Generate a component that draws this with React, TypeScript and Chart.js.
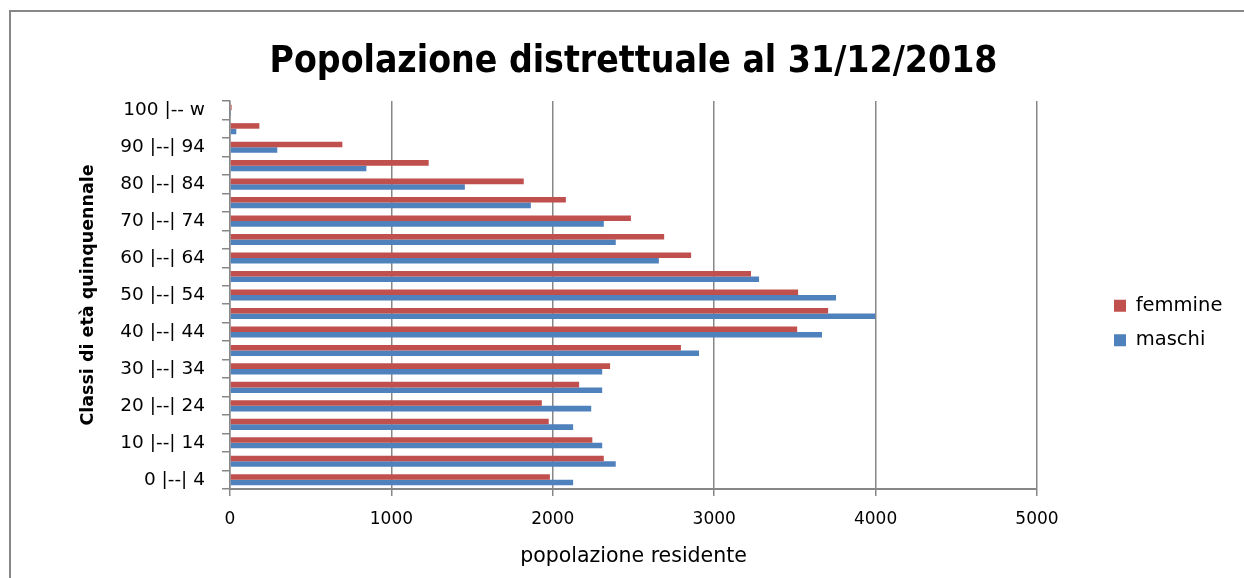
import React, { useEffect, useRef } from 'react';
import { Chart, registerables } from 'chart.js';

Chart.register(...registerables);

const ageClasses = [
  '0 |--| 4', '5 |--| 9', '10 |--| 14', '15 |--| 19', '20 |--| 24', '25 |--| 29',
  '30 |--| 34', '35 |--| 39', '40 |--| 44', '45 |--| 49', '50 |--| 54', '55 |--| 59',
  '60 |--| 64', '65 |--| 69', '70 |--| 74', '75 |--| 79', '80 |--| 84', '85 |--| 89',
  '90 |--| 94', '95 |--| 99', '100 |-- w',
];
const femmine = [1982, 2316, 2245, 1975, 1932, 2163, 2355, 2794, 3514, 3706, 3520, 3228, 2857, 2690, 2484, 2081, 1820, 1231, 696, 182, 10];
const maschi = [2126, 2390, 2306, 2126, 2238, 2306, 2306, 2906, 3668, 3997, 3755, 3278, 2657, 2390, 2316, 1864, 1455, 845, 293, 39, 2];
const xMin = 0;
const xMax = 5000;
const xStep = 1000;

const TITLE = 'Popolazione distrettuale al 31/12/2018';
const X_TITLE = 'popolazione residente';
const Y_TITLE = 'Classi di età quinquennale';

const W = 1244;
const H = 578;
const GRAY = '#878787';
const RED = '#C0504D';
const BLUE = '#4F81BD';
const FONT = '"DejaVu Sans", sans-serif';
const LEGEND_SIZE = 19.5;

export default function App() {
  const ref = useRef<HTMLCanvasElement | null>(null);

  useEffect(() => {
    const canvas = ref.current;
    if (!canvas) return;
    const ctx = canvas.getContext('2d');
    if (!ctx) return;

    ctx.font = `${LEGEND_SIZE}px ${FONT}`;
    const textW = Math.max(ctx.measureText('femmine').width, ctx.measureText('maschi').width);
    const legendPad = 15;
    const legendW = legendPad + 12 + LEGEND_SIZE / 2 + textW + 10;
    const legendLeft = 1114 - legendPad;
    const padRight = W - legendLeft - legendW;
    const spacer = legendLeft - 1037;

    Chart.defaults.color = '#000';

    const chart = new Chart(ctx, {
      type: 'bar',
      data: {
        labels: ageClasses,
        datasets: [
          {
            label: 'femmine',
            data: femmine,
            backgroundColor: RED,
            borderWidth: 0,
            categoryPercentage: 0.6,
            barPercentage: 1.0,
          },
          {
            label: 'maschi',
            data: maschi,
            backgroundColor: BLUE,
            borderWidth: 0,
            categoryPercentage: 0.6,
            barPercentage: 1.0,
          },
        ],
      },
      options: {
        indexAxis: 'y',
        responsive: false,
        animation: false,
        layout: { padding: { left: 0, top: 0, right: padRight, bottom: 0 } },
        plugins: {
          title: {
            display: true,
            text: TITLE,
            fullSize: false,
            color: '#000',
            font: { family: '"DejaVu Sans Condensed", "DejaVu Sans", sans-serif', weight: 'bold', size: 37, lineHeight: 1.2 },
            padding: { top: 39.8, bottom: 16.8 },
          },
          legend: {
            position: 'right',
            align: 'center',
            title: { display: true, text: '', font: { size: 10, lineHeight: 1.2 }, padding: { top: 56, bottom: 0 } },
            labels: {
              boxWidth: 12,
              boxHeight: 12,
              padding: legendPad,
              color: '#000',
              font: { family: FONT, size: LEGEND_SIZE },
            },
          },
          tooltip: { enabled: false },
        },
        scales: {
          x: {
            type: 'linear',
            position: 'bottom',
            min: xMin,
            max: xMax,
            ticks: {
              stepSize: xStep,
              padding: 13.8,
              color: '#000',
              font: { family: FONT, size: 17 },
              callback: (v: any) => String(v),
            },
            grid: { color: GRAY, lineWidth: 1.5, drawTicks: true, tickLength: 7, tickColor: GRAY },
            border: { display: true, color: GRAY, width: 2 },
            title: {
              display: true,
              text: X_TITLE,
              color: '#000',
              font: { family: FONT, size: 20.5, lineHeight: 1.2 },
              padding: { top: 0, bottom: 8.7 },
            },
            afterFit: (scale: any) => { scale.height = H - 489; },
          },
          y: {
            type: 'category',
            position: 'left',
            reverse: true,
            offset: true,
            ticks: {
              autoSkip: false,
              padding: 17,
              color: '#000',
              font: { family: FONT, size: 18.5 },
              callback: (_v: any, i: number) => (i % 2 === 0 ? ageClasses[i] : ''),
            },
            grid: { offset: true, drawOnChartArea: false, drawTicks: true, tickLength: 8, color: GRAY, lineWidth: 1.5 },
            border: { display: true, color: GRAY, width: 1.5 },
            title: {
              display: true,
              text: Y_TITLE,
              color: '#000',
              font: { family: FONT, size: 17.5, weight: 'bold', lineHeight: 1.2 },
              padding: { top: 77.5, bottom: 0 },
            },
            afterFit: (scale: any) => { scale.width = 230; },
          },
          spacer: {
            type: 'linear',
            axis: 'y',
            position: 'right',
            display: true,
            ticks: { display: false },
            grid: { display: false },
            border: { display: false },
            afterFit: (scale: any) => { scale.width = spacer; },
          },
        },
      },
    } as any);

    return () => chart.destroy();
  }, []);

  return (
    <>
      <div
        style={{
          position: 'fixed',
          left: 9,
          top: 10,
          right: 0,
          bottom: 0,
          borderLeft: `2px solid ${GRAY}`,
          borderTop: `2px solid ${GRAY}`,
        }}
      />
      <canvas
        ref={ref}
        width={W}
        height={H}
        style={{ position: 'fixed', left: 0, top: 0, width: W, height: H }}
      />
    </>
  );
}
